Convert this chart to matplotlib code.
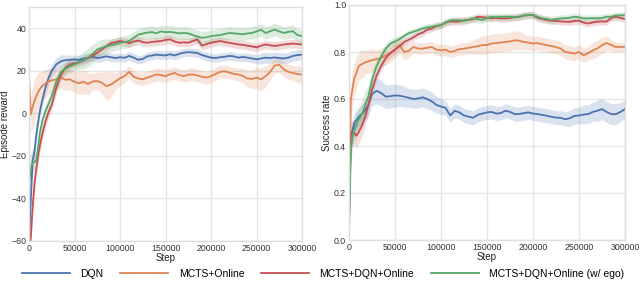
import numpy as np
import matplotlib
matplotlib.use('Agg')
import matplotlib.pyplot as plt

# ==============================
# Dados
# ==============================
steps_k = [0, 2, 4, 6, 8, 10, 12, 15, 18, 21, 25,
           30, 35, 40, 45, 50, 55, 60, 65, 70, 75, 80, 85, 90, 95, 100,
           105, 110, 115, 120, 125, 130, 135, 140, 145, 150, 155, 160, 165, 170, 175,
           180, 185, 190, 195, 200, 205, 210, 215, 220, 225, 230, 235, 240, 245, 250,
           255, 260, 265, 270, 275, 280, 285, 290, 295, 300]

labels = ['DQN', 'MCTS+Online', 'MCTS+DQN+Online', 'MCTS+DQN+Online (w/ ego)']
colors = ['#4C72B0', '#DD8452', '#C44E52', '#55A868']

# --- episode reward (media) ---
rew_dqn = [-62, -40, -22, -18, -10, -4, 1, 7, 12, 16, 20,
           23, 24.5, 25, 25.2, 25.4, 25.1, 25.8, 26.2, 26.6, 26, 26.3, 26.8, 26.4, 26, 26.4,
           26.1, 27, 26.2, 25.2, 25.6, 26.8, 27.2, 27.6, 27.4, 27.2, 27.8, 27.2, 28, 28.5, 28.8,
           28.6, 28.4, 27.4, 26.8, 26.2, 26.0, 26.4, 26.6, 27, 26.8, 26.2, 26.5, 26.2, 25.8, 25.4,
           25.8, 26.2, 26.0, 26.3, 26.0, 25.8, 26.2, 27.0, 27.4, 27.6]
rew_mcts = [17, -0.5, 3, 6, 8, 10, 11.5, 13, 14, 15, 15.5,
            16, 16.8, 15.8, 16, 14.8, 14.2, 14.8, 13.8, 15, 15.2, 14.4, 12.8, 13.5, 15, 16.5,
            17.5, 19.5, 17.2, 16.4, 16, 16.8, 17.5, 18.3, 18, 17.5, 18.4, 19, 18, 17.5, 18.2,
            18.3, 17.8, 17.2, 16.8, 17.5, 18.5, 19.5, 19.8, 19.2, 18.6, 18.3, 17.6, 16.4, 16.2, 16.8,
            16, 17.5, 19.5, 22.5, 22.8, 20.7, 19.5, 19, 18.4, 18.3]
rew_mdo = [-66, -58, -44, -33, -26, -20, -15, -9, -4, 0, 4,
           12, 18, 21.5, 23, 23.5, 24, 24.8, 26, 27, 28.5, 30, 31.5, 33, 33.5, 34,
           33.6, 33, 33.8, 34.2, 33.5, 33.2, 33.6, 33.8, 34, 34.5, 34.8, 33.8, 33.2, 33.4, 33.2,
           34, 34.8, 31.8, 32.5, 33.2, 33.6, 34, 33.5, 33.2, 32.8, 32.4, 32.2, 31.8, 31.5, 31,
           31.8, 32.4, 32, 31.7, 32, 32.4, 32.6, 32.8, 32.6, 32.4]
rew_ego = [-33, -26, -23, -23, -22, -16, -9, -3, 1, 4, 8,
           15, 19.5, 21, 22, 23, 24, 25, 26.2, 28, 30, 30.8, 31.5, 32, 32.5, 33.2,
           33.5, 34, 35.5, 37, 37.5, 38, 38.2, 37.7, 38.5, 38.2, 38.3, 38, 37.6, 37.8, 37.6,
           36.8, 36.2, 35.5, 35.8, 36.3, 36.6, 36.8, 37.3, 37.8, 37.6, 37.4, 37.2, 37.6, 37.8, 38.5,
           39.3, 37.8, 38.6, 39.4, 38.5, 37.8, 38.3, 38.6, 36.8, 36.3]

# --- episode reward (desvio, meia largura da faixa) ---
rew_dqn_sd = [3, 6, 5, 4, 4, 3.5, 3, 3, 3, 3, 3,
              3, 3, 2.5, 2.2, 2, 2, 2, 2, 2, 2, 2, 2, 2, 2, 2,
              2, 2, 2, 2, 2, 2, 2, 2, 2, 2, 2, 2, 2, 2, 2,
              2, 2, 2, 2, 2, 2, 2, 2, 2, 2, 2, 2, 2, 2, 2.2,
              2.5, 2.5, 2.5, 2.5, 2.5, 2.5, 2.5, 2.5, 2.5, 2.5]
rew_mcts_sd = [4, 8, 10, 10, 10, 9, 8, 7, 7, 6, 6,
               5, 5, 5, 5, 5, 5.5, 5.5, 5, 4, 4, 5, 7, 6, 4, 3.5,
               3, 3, 3, 3, 3, 3, 3, 3, 3, 3, 3, 3, 3, 3, 3,
               3, 3, 3, 3, 3, 3, 3, 3, 3, 3, 3, 3.5, 4, 4.5, 5,
               5.5, 5, 4, 3.5, 3.5, 3.5, 3.5, 3.5, 4, 4]
rew_mdo_sd = [4, 4, 4, 4, 4, 4, 3.5, 3, 3, 3, 3,
              3, 2.5, 2.5, 2.2, 2, 2, 2, 2, 2, 2, 2, 2, 2, 2, 2,
              2, 2, 2, 2, 2, 2, 2, 2, 2, 2, 2, 2, 2, 2, 2,
              2, 2, 2, 2, 2, 2, 2, 2, 2, 2, 2, 2, 2, 2, 2,
              2, 2, 2, 2, 2, 2, 2, 2, 2, 2]
rew_ego_sd = [8, 8, 6, 4, 4, 4, 3.5, 3, 3, 3, 3,
              3, 3, 3, 3, 3, 3.5, 4, 4.5, 4.5, 4, 4, 3.5, 3, 3, 3,
              3, 3, 3, 3, 3, 3, 3, 3, 3, 3, 3, 3, 3, 3, 3,
              3, 3, 3, 3, 3, 3, 3, 3, 3, 3, 3, 3, 3, 3, 3,
              3, 3, 3, 3, 3, 3, 3, 3, 3, 3]

# --- success rate (media) ---
suc_dqn = [0.08, 0.45, 0.47, 0.5, 0.51, 0.52, 0.53, 0.54, 0.555, 0.575, 0.62,
           0.635, 0.625, 0.61, 0.612, 0.615, 0.614, 0.61, 0.605, 0.6, 0.602, 0.607, 0.6, 0.59, 0.575, 0.568,
           0.562, 0.53, 0.55, 0.543, 0.53, 0.525, 0.52, 0.533, 0.538, 0.543, 0.545, 0.538, 0.54, 0.55, 0.545,
           0.536, 0.536, 0.54, 0.543, 0.538, 0.536, 0.532, 0.529, 0.524, 0.521, 0.52, 0.514, 0.518, 0.528, 0.53,
           0.534, 0.536, 0.545, 0.55, 0.557, 0.545, 0.536, 0.535, 0.545, 0.557]
suc_mcts = [0.1, 0.6, 0.65, 0.69, 0.71, 0.735, 0.745, 0.75, 0.757, 0.76, 0.765,
            0.77, 0.775, 0.786, 0.795, 0.81, 0.829, 0.8, 0.805, 0.821, 0.815, 0.814, 0.818, 0.821, 0.81, 0.807,
            0.81, 0.8, 0.805, 0.812, 0.814, 0.818, 0.821, 0.825, 0.829, 0.83, 0.836, 0.838, 0.84, 0.843, 0.845,
            0.85, 0.848, 0.843, 0.84, 0.836, 0.838, 0.833, 0.829, 0.825, 0.821, 0.815, 0.8, 0.797, 0.793, 0.8,
            0.786, 0.795, 0.807, 0.815, 0.829, 0.838, 0.83, 0.821, 0.822, 0.821]
suc_mdo = [0.1, 0.45, 0.46, 0.455, 0.443, 0.455, 0.47, 0.495, 0.53, 0.575, 0.64,
           0.7, 0.74, 0.775, 0.795, 0.81, 0.825, 0.843, 0.852, 0.862, 0.875, 0.882, 0.895, 0.9, 0.91, 0.914,
           0.925, 0.93, 0.929, 0.93, 0.935, 0.936, 0.94, 0.95, 0.948, 0.946, 0.943, 0.945, 0.943, 0.943, 0.944,
           0.948, 0.95, 0.955, 0.957, 0.957, 0.945, 0.94, 0.936, 0.933, 0.932, 0.93, 0.929, 0.928, 0.932, 0.933,
           0.925, 0.921, 0.926, 0.929, 0.93, 0.929, 0.945, 0.95, 0.945, 0.94]
suc_ego = [0.03, 0.38, 0.44, 0.47, 0.49, 0.51, 0.52, 0.545, 0.58, 0.61, 0.68,
           0.74, 0.78, 0.815, 0.836, 0.845, 0.855, 0.868, 0.88, 0.886, 0.893, 0.9, 0.905, 0.908, 0.912, 0.914,
           0.925, 0.934, 0.936, 0.935, 0.932, 0.938, 0.943, 0.94, 0.936, 0.945, 0.95, 0.948, 0.95, 0.95, 0.95,
           0.948, 0.95, 0.955, 0.957, 0.957, 0.95, 0.943, 0.94, 0.936, 0.94, 0.943, 0.944, 0.946, 0.95, 0.948,
           0.943, 0.943, 0.944, 0.943, 0.945, 0.95, 0.95, 0.955, 0.956, 0.957]

# --- success rate (desvio) ---
suc_dqn_sd = [0.03, 0.04, 0.04, 0.04, 0.04, 0.04, 0.04, 0.04, 0.045, 0.05, 0.05,
              0.055, 0.055, 0.05, 0.05, 0.05, 0.045, 0.045, 0.04, 0.04, 0.04, 0.04, 0.04, 0.04, 0.035, 0.035,
              0.03, 0.03, 0.03, 0.03, 0.03, 0.03, 0.03, 0.03, 0.03, 0.03, 0.03, 0.03, 0.03, 0.03, 0.03,
              0.03, 0.03, 0.03, 0.03, 0.03, 0.03, 0.03, 0.03, 0.03, 0.03, 0.03, 0.03, 0.035, 0.035, 0.035,
              0.04, 0.04, 0.04, 0.045, 0.045, 0.045, 0.045, 0.045, 0.04, 0.04]
suc_mcts_sd = [0.05, 0.08, 0.08, 0.07, 0.07, 0.06, 0.06, 0.06, 0.05, 0.05, 0.05,
               0.04, 0.04, 0.04, 0.04, 0.035, 0.035, 0.035, 0.03, 0.025, 0.025, 0.025, 0.025, 0.025, 0.025, 0.025,
               0.025, 0.025, 0.025, 0.025, 0.025, 0.025, 0.03, 0.035, 0.04, 0.04, 0.04, 0.04, 0.04, 0.04, 0.04,
               0.04, 0.04, 0.035, 0.03, 0.03, 0.03, 0.03, 0.03, 0.03, 0.03, 0.03, 0.03, 0.03, 0.03, 0.03,
               0.03, 0.03, 0.035, 0.035, 0.035, 0.03, 0.025, 0.02, 0.02, 0.02]
suc_mdo_sd = [0.05, 0.05, 0.05, 0.05, 0.05, 0.05, 0.05, 0.04, 0.04, 0.035, 0.03,
              0.025, 0.02, 0.02, 0.02, 0.02, 0.015, 0.015, 0.015, 0.015, 0.015, 0.015, 0.015, 0.015, 0.015, 0.015,
              0.015, 0.015, 0.015, 0.015, 0.015, 0.015, 0.015, 0.015, 0.015, 0.015, 0.015, 0.015, 0.015, 0.015, 0.015,
              0.015, 0.015, 0.015, 0.015, 0.015, 0.015, 0.015, 0.015, 0.015, 0.015, 0.015, 0.015, 0.015, 0.015, 0.015,
              0.015, 0.015, 0.015, 0.015, 0.015, 0.015, 0.015, 0.015, 0.015, 0.015]
suc_ego_sd = [0.04, 0.05, 0.05, 0.05, 0.05, 0.05, 0.05, 0.06, 0.06, 0.05, 0.04,
              0.03, 0.025, 0.02, 0.02, 0.02, 0.015, 0.015, 0.015, 0.015, 0.015, 0.015, 0.015, 0.015, 0.015, 0.015,
              0.015, 0.015, 0.015, 0.015, 0.015, 0.015, 0.015, 0.015, 0.015, 0.015, 0.015, 0.015, 0.015, 0.015, 0.015,
              0.015, 0.015, 0.015, 0.015, 0.015, 0.015, 0.015, 0.015, 0.015, 0.015, 0.015, 0.015, 0.015, 0.015, 0.015,
              0.015, 0.015, 0.015, 0.015, 0.015, 0.015, 0.015, 0.015, 0.015, 0.015]

# ==============================
# Estilo
# ==============================
plt.rcParams['font.family'] = ['Liberation Sans', 'DejaVu Sans']
plt.rcParams['axes.edgecolor'] = '#dddddd'
plt.rcParams['axes.linewidth'] = 1.0
plt.rcParams['xtick.color'] = '#333333'
plt.rcParams['ytick.color'] = '#333333'

steps = np.array(steps_k) * 1000

fig = plt.figure(figsize=(6.4, 2.81), dpi=100)
ax1 = fig.add_axes([29/640, 1 - 241/281, 273/640, 234/281])
ax2 = fig.add_axes([349/640, 1 - 240/281, 276/640, 235/281])

reward = [rew_dqn, rew_mcts, rew_mdo, rew_ego]
reward_sd = [rew_dqn_sd, rew_mcts_sd, rew_mdo_sd, rew_ego_sd]
success = [suc_dqn, suc_mcts, suc_mdo, suc_ego]
success_sd = [suc_dqn_sd, suc_mcts_sd, suc_mdo_sd, suc_ego_sd]

for ax, means, sds in [(ax1, reward, reward_sd), (ax2, success, success_sd)]:
    for m, s, c, lab in zip(means, sds, colors, labels):
        m = np.array(m)
        s = np.array(s)
        ax.fill_between(steps, m - s, m + s, color=c, alpha=0.2, linewidth=0)
        ax.plot(steps, m, color=c, linewidth=1.3, label=lab)
    ax.set_xlim(0, 300000)
    ax.set_xticks(range(0, 300001, 50000))
    ax.grid(True, color='#e6e6e6', linewidth=1.0)
    ax.set_axisbelow(True)
    ax.tick_params(length=0, pad=2, labelsize=6.3)
    ax.set_xlabel('Step', fontsize=7, labelpad=0, color='#222222')

ax1.set_ylim(-60, 50)
ax1.set_yticks(range(-60, 41, 20))
ax1.set_ylabel('Episode reward', fontsize=7, color='#222222')
ax1.yaxis.set_label_coords(-0.068, 0.5)

ax2.set_ylim(0, 1.0)
ax2.set_yticks([0.0, 0.2, 0.4, 0.6, 0.8, 1.0])
ax2.set_ylabel('Success rate', fontsize=7, color='#222222')
ax2.yaxis.set_label_coords(-0.062, 0.5)

handles, lbls = ax1.get_legend_handles_labels()
fig.legend(handles, lbls, loc='lower center', bbox_to_anchor=(0.505, -0.025), ncol=4,
           frameon=False, fontsize=7.5, handlelength=4.6, columnspacing=1.6, handletextpad=1.0)

fig.savefig('out.png', dpi=100)
